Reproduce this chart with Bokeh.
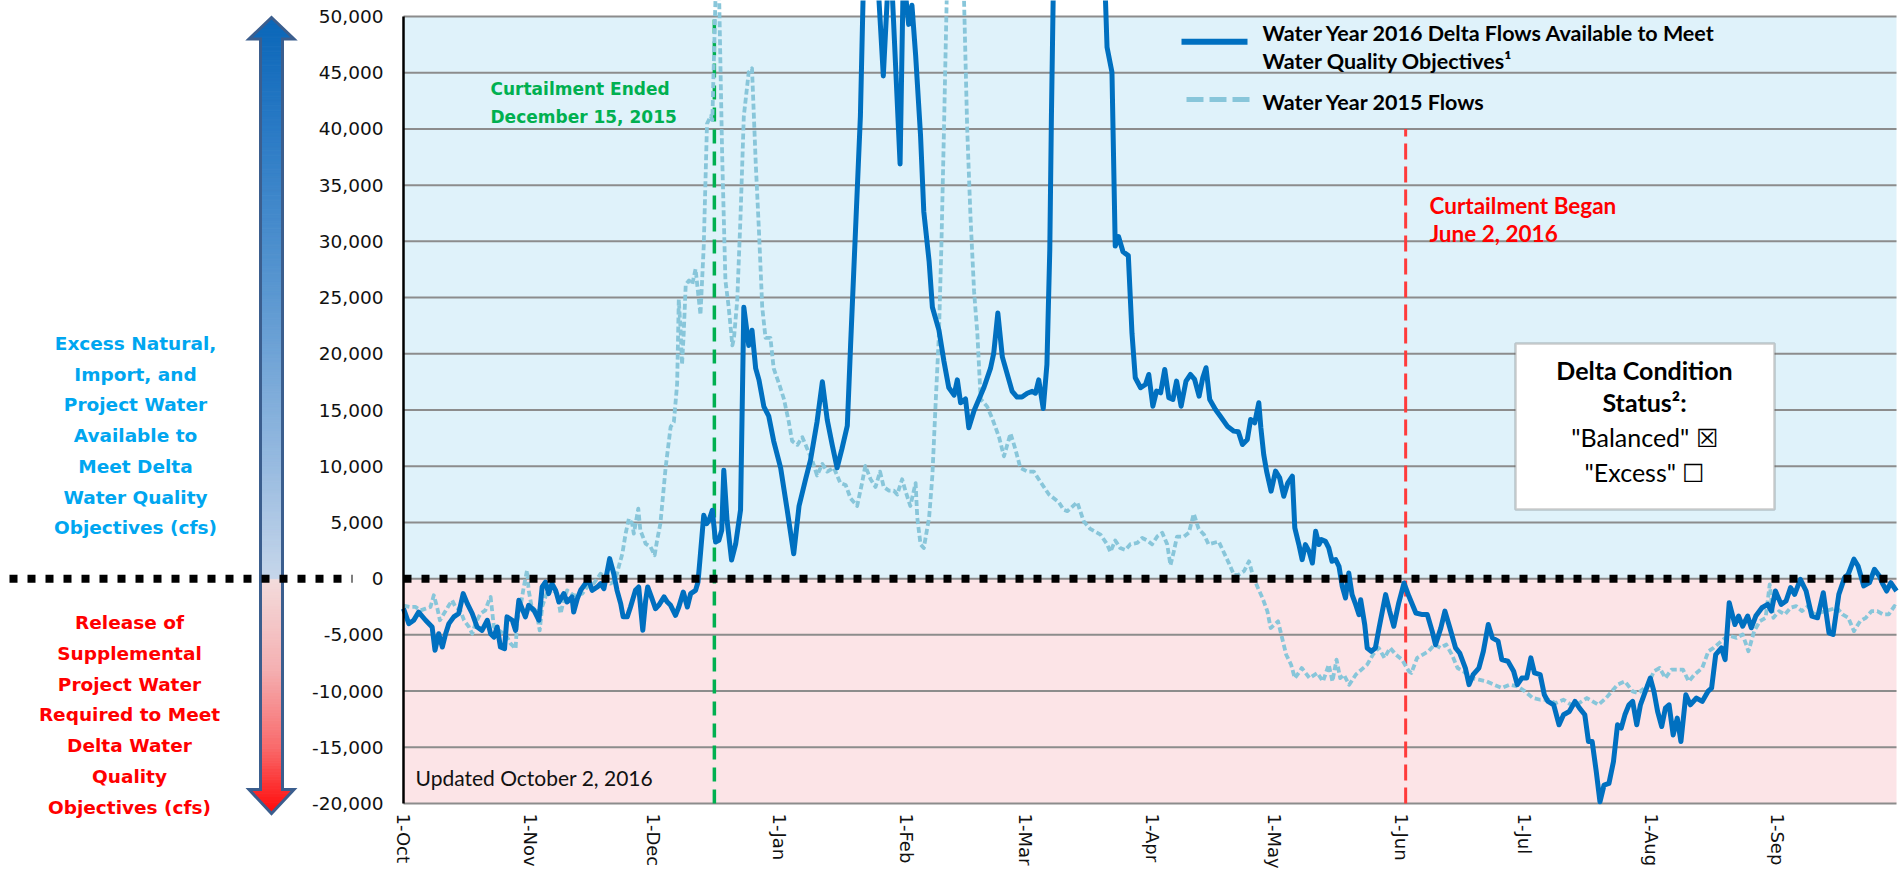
import numpy as np
from bokeh.plotting import figure
from bokeh.models import Range1d, FixedTicker, Label, BoxAnnotation
from bokeh.embed import file_html
from bokeh.resources import INLINE

# ---------------- data ----------------
X_TICKS = [0, 31, 61, 92, 123, 152, 183, 213, 244, 274, 305, 336]   # days since 1-Oct-2015
X_TICK_LABELS = ["1-Oct", "1-Nov", "1-Dec", "1-Jan", "1-Feb", "1-Mar",
                 "1-Apr", "1-May", "1-Jun", "1-Jul", "1-Aug", "1-Sep"]
Y_TICKS = [-20000, -15000, -10000, -5000, 0, 5000, 10000, 15000, 20000,
           25000, 30000, 35000, 40000, 45000, 50000]
Y_TICK_LABELS = ["-20,000", "-15,000", "-10,000", "-5,000", "0", "5,000", "10,000",
                 "15,000", "20,000", "25,000", "30,000", "35,000", "40,000",
                 "45,000", "50,000"]

# Water Year 2016 Delta flows (day, cfs)
WY2016 = [
    (0, -2670), (1.3, -4000), (2.5, -3700), (3.7, -2970), (5.4, -3700), (7.0, -4300),
    (7.7, -6370), (8.6, -4900), (9.5, -6080), (10.3, -4900), (11.1, -4000), (12.3, -3400),
    (13.5, -3100), (14.6, -1330), (15.6, -2220), (16.8, -3100), (18.0, -4300), (19.2, -4600),
    (20.5, -3700), (21.3, -4900), (22.1, -5200), (22.9, -4300), (23.7, -6080), (24.7, -6230),
    (25.3, -3400), (26.6, -3700), (27.4, -4600), (28.2, -1930), (29.0, -2670), (29.8, -3400),
    (30.6, -2370), (31.9, -2820), (33.1, -3700), (33.9, -740), (34.7, -300), (35.5, -1330),
    (36.3, -440), (37.2, -1040), (38.0, -2080), (39.2, -1330), (40.0, -2080), (41.2, -1630),
    (41.6, -2970), (42.5, -1780), (43.3, -1040), (44.5, -440), (45.3, -150), (46.1, -1040),
    (47.4, -740), (48.2, -440), (49.0, -890), (50.4, 1780), (51.4, 440), (52.2, -1040),
    (53.1, -2220), (53.7, -3400), (54.7, -3400), (55.5, -2520), (56.7, -1040), (57.5, -740),
    (58.5, -4600), (59.2, -1930), (59.7, -740), (60.6, -1630), (61.6, -2670), (62.4, -2370),
    (63.7, -1630), (64.5, -2080), (65.3, -2370), (66.5, -3260), (67.3, -2520), (68.4, -1190),
    (69.4, -2520), (70.2, -1330), (71.4, -1040), (72.0, -300), (72.6, 2220), (73.4, 5630),
    (74.1, 4890), (74.7, 5190), (75.5, 6080), (76.3, 3260), (77.1, 3410), (77.8, 4300),
    (78.3, 9640), (79.1, 5190), (80.2, 1650), (81.2, 3060), (82.4, 6120), (83.2, 24140),
    (84.4, 20740), (85.2, 22100), (86.1, 18700), (86.9, 17680), (88.1, 15300), (89.3, 14450),
    (90.5, 12240), (92.2, 9860), (93.8, 6120), (95.4, 2210), (96.7, 6460), (98.3, 8840),
    (99.5, 10540), (101.1, 13940), (102.4, 17510), (103.6, 14110), (104.8, 11900), (106.0, 9860),
    (107.2, 11560), (108.5, 13600), (109.3, 20740), (110.5, 30940), (111.7, 41140), (113.0, 62000),
    (114.5, 70000), (116.0, 53000), (117.3, 44710), (118.6, 54000), (119.5, 52000), (121.4, 36890),
    (122.2, 54000), (123.0, 51000), (123.5, 49300), (124.3, 51000), (125.2, 46580), (126.4, 39440),
    (127.2, 32640), (128.5, 28220), (129.3, 24140), (130.9, 22100), (132.1, 19380), (133.3, 17000),
    (134.6, 16320), (135.4, 17680), (136.2, 15640), (137.4, 15980), (138.2, 13430), (139.5, 14960),
    (140.7, 15980), (141.9, 17000), (143.5, 18700), (144.3, 20060), (145.3, 23630), (146.4, 19720),
    (147.6, 18190), (148.8, 16660), (150.0, 16150), (151.2, 16150), (152.5, 16490), (153.7, 16660),
    (154.5, 16490), (155.3, 17680), (156.4, 15130), (157.3, 19040), (158.0, 29240), (158.4, 41140),
    (159.5, 68000), (163.0, 85000), (167.0, 80000), (171.2, 56000), (172.0, 47260), (173.2, 45050),
    (174.0, 29580), (174.8, 30430), (175.9, 29070), (177.2, 28730), (178.1, 21800), (178.9, 17870),
    (180.2, 16980), (181.4, 17270), (182.2, 18160), (183.2, 15340), (184.1, 16680), (185.1, 16530),
    (186.1, 18610), (187.1, 16090), (188.1, 15940), (189.0, 17570), (190.1, 15340), (191.3, 17570),
    (192.4, 18160), (193.4, 17720), (194.5, 16230), (195.4, 17870), (196.2, 18760), (197.1, 15940),
    (198.5, 15050), (199.7, 14450), (201.4, 13560), (203.0, 13120), (204.1, 13060), (205.1, 11930),
    (206.3, 12380), (207.1, 14160), (208.1, 13860), (209.1, 15640), (209.6, 13420), (210.3, 11040),
    (211.0, 9560), (212.1, 7780), (213.2, 9560), (214.2, 8960), (215.2, 7330), (216.2, 8520),
    (217.3, 9110), (217.9, 4510), (218.9, 3030), (219.7, 1690), (220.5, 3030), (221.4, 2430),
    (222.2, 1390), (223.0, 4210), (223.8, 3030), (224.4, 3470), (225.4, 3320), (226.2, 2730),
    (227.0, 1540), (227.9, 1690), (228.7, 1100), (229.5, -690), (230.3, -1720), (231.1, 500),
    (231.9, -1420), (232.8, -2310), (233.6, -3200), (234.0, -1870), (235.0, -4100), (235.6, -6170),
    (236.6, -6470), (237.6, -6170), (238.5, -4390), (240.1, -1420), (241.1, -2910), (242.1, -4240),
    (243.3, -2170), (244.6, -390), (245.8, -1570), (247.5, -3060), (249.1, -3200), (250.3, -3200),
    (251.5, -4690), (252.3, -5880), (253.6, -4390), (254.6, -2890), (255.8, -4370), (257.2, -6160),
    (258.2, -6610), (259.6, -7950), (260.5, -9430), (261.5, -8540), (262.9, -7950), (264.0, -6460),
    (265.2, -4080), (266.2, -5270), (267.6, -5560), (268.5, -7200), (270.0, -7350), (271.4, -8240),
    (272.3, -9430), (273.4, -8840), (274.6, -8840), (275.6, -7050), (276.5, -8390), (277.9, -8540),
    (278.9, -10330), (279.8, -10920), (281.2, -11220), (282.5, -13000), (283.6, -12110), (285.0, -11820),
    (286.4, -10920), (287.5, -11520), (288.8, -12110), (289.7, -14490), (290.6, -14490), (291.6, -17170),
    (292.5, -19850), (293.5, -18360), (294.7, -18210), (295.8, -16280), (296.8, -13000), (297.7, -13300),
    (298.6, -12110), (299.6, -11220), (300.5, -10920), (301.5, -13000), (302.4, -11220), (303.6, -10030),
    (304.8, -8840), (305.7, -10030), (306.6, -11820), (307.6, -13150), (308.5, -11520), (309.4, -11220),
    (310.4, -13900), (311.4, -12410), (312.3, -14490), (313.5, -10330), (314.6, -11220), (316.1, -10620),
    (317.5, -10920), (318.9, -10030), (319.8, -9730), (320.8, -6760), (322.2, -6160), (323.1, -7200),
    (324.1, -2140), (325.5, -4080), (326.4, -3330), (327.4, -4230), (328.6, -3330), (329.5, -4370),
    (330.6, -3330), (332.1, -2590), (333.5, -2290), (334.4, -2890), (335.4, -1100), (336.8, -2290),
    (338.0, -1990), (339.1, -800), (340.1, -1400), (341.5, -60), (342.9, -1100), (344.3, -3330),
    (345.7, -3480), (347.1, -1250), (348.5, -4820), (349.5, -4970), (350.9, -1400), (352.3, 90),
    (353.2, 390), (354.6, 1730), (355.6, 1130), (357.0, -650), (358.4, -360), (359.6, 830),
    (360.8, 240), (361.7, -510), (362.6, -1100), (363.6, -360), (365.0, -1100),
]

# Water Year 2015 flows (day, cfs)
WY2015 = [
    (0, -2400), (1.7, -2520), (2.9, -2520), (4.2, -2820), (5.4, -2670), (6.6, -2520),
    (7.4, -1480), (8.2, -2520), (8.9, -3700), (9.9, -3110), (11.1, -2370), (11.9, -1930),
    (12.7, -2520), (13.9, -2820), (14.8, -3700), (16.0, -4300), (16.8, -4900), (17.6, -4000),
    (18.8, -3110), (20.0, -2820), (20.9, -1930), (21.3, -1630), (22.1, -4300), (23.3, -4600),
    (24.5, -4900), (25.3, -5190), (26.2, -5780), (27.4, -6230), (27.8, -3700), (28.6, -2520),
    (29.4, -740), (30.2, 740), (30.6, -1040), (31.5, -2820), (32.3, -2520), (33.3, -4600),
    (33.9, -2500), (35.5, -740), (37.6, -1330), (38.4, -3110), (39.2, -1930), (40.0, -1040),
    (41.6, -1500), (43.7, -1330), (44.9, -740), (46.5, -440), (48.2, 440), (49.0, 150),
    (50.6, -440), (51.8, -150), (52.6, 1040), (53.5, 2220), (54.3, 4000), (55.1, 5340),
    (55.9, 4890), (56.3, 4000), (57.4, 6230), (57.9, 4300), (59.2, 3110), (60.4, 2820),
    (61.4, 2080), (62.0, 3410), (62.8, 4890), (64.1, 9930), (65.3, 13490), (66.1, 13940),
    (66.9, 17340), (67.3, 24820), (67.7, 22440), (68.1, 19040), (68.5, 21760), (69.0, 26180),
    (69.8, 26520), (70.6, 26180), (71.4, 27540), (72.2, 24820), (72.6, 23460), (73.4, 29580),
    (74.2, 40460), (75.1, 41140), (75.5, 40800), (76.3, 52000), (77.0, 55000), (77.9, 37740),
    (78.7, 26520), (79.5, 24140), (80.4, 20740), (80.8, 21420), (81.6, 24820), (82.4, 32300),
    (83.2, 41140), (84.4, 45050), (85.2, 45390), (86.1, 37060), (86.9, 30940), (87.7, 24140),
    (88.5, 21420), (89.7, 21420), (90.5, 18700), (91.8, 17340), (93.0, 15980), (94.2, 13940),
    (95.0, 12240), (96.3, 11900), (97.5, 12580), (98.7, 11560), (99.9, 10540), (101.1, 9180),
    (102.4, 10200), (103.6, 9520), (105.2, 9860), (106.8, 8500), (108.1, 8330), (109.3, 7140),
    (110.9, 6460), (112.1, 8500), (112.9, 10030), (114.2, 8840), (115.4, 8160), (116.5, 9520),
    (117.4, 8160), (118.7, 7820), (119.9, 7820), (120.7, 7480), (121.9, 8840), (122.7, 7820),
    (123.9, 6460), (125.2, 8500), (125.6, 5440), (126.4, 3060), (127.2, 2720), (128.5, 5440),
    (129.3, 9180), (130.1, 15640), (130.9, 21760), (131.5, 29580), (132.1, 39440), (133.0, 55000),
    (135.0, 60000), (136.8, 55000), (137.8, 40120), (138.6, 32300), (139.5, 25500), (140.3, 21760),
    (141.1, 15980), (142.7, 15300), (143.9, 14280), (145.6, 12580), (146.8, 10880), (147.6, 11900),
    (148.4, 12920), (149.6, 11500), (150.8, 9860), (152.5, 9520), (154.1, 9520), (155.3, 8840),
    (157.8, 7480), (160.2, 6800), (161.4, 6120), (162.3, 6000), (164.7, 6800), (166.3, 5100),
    (167.9, 4420), (170.4, 3920), (172.0, 3060), (172.8, 2380), (174.0, 3400), (175.2, 2720),
    (176.5, 2550), (177.7, 3060), (179.4, 3180), (180.6, 3620), (181.8, 3400), (183.0, 3060),
    (184.3, 3770), (185.5, 4080), (186.7, 3060), (187.5, 1190), (188.3, 2380), (189.1, 3740),
    (190.8, 3740), (192.0, 4080), (193.2, 5780), (194.4, 4420), (195.7, 3920), (196.8, 3060),
    (199.3, 3300), (201.8, 1360), (203.0, 340), (204.2, 340), (205.5, 680), (206.7, 1540),
    (207.5, 500), (208.7, -680), (210.0, -1720), (211.2, -2910), (212.0, -4390), (213.8, -3800),
    (214.6, -4990), (215.8, -6770), (217.0, -7660), (217.9, -8850), (219.1, -8250), (219.6, -7950),
    (221.5, -8840), (223.4, -8390), (224.8, -9140), (226.2, -7650), (227.1, -9140), (228.1, -7200),
    (229.0, -8840), (229.9, -8550), (231.2, -9440), (232.8, -8540), (234.2, -8090), (235.6, -7650),
    (237.0, -6760), (238.4, -6160), (239.8, -7050), (241.2, -6160), (242.6, -6760), (244.1, -7200),
    (245.8, -8250), (246.4, -8390), (247.8, -7050), (249.2, -6760), (250.6, -6460), (252.1, -5860),
    (253.5, -6160), (254.9, -5860), (256.3, -6760), (257.7, -7950), (259.1, -8240), (261.0, -8840),
    (262.9, -8990), (264.8, -9140), (266.6, -9430), (268.5, -9730), (270.4, -9430), (272.3, -9580),
    (274.2, -10030), (276.1, -10620), (277.9, -10770), (279.8, -10770), (281.7, -11070), (283.6, -10770),
    (285.5, -11220), (287.4, -11070), (289.3, -10620), (292.1, -11220), (294.0, -10620), (295.4, -10030),
    (296.8, -9430), (298.6, -9140), (300.5, -10030), (301.9, -10180), (304.3, -9430), (305.7, -8240),
    (307.1, -7950), (308.5, -8840), (310.0, -8090), (312.8, -8090), (314.2, -9140), (315.6, -8540),
    (317.5, -7950), (319.0, -6460), (320.3, -6160), (323.1, -5270), (324.5, -5120), (325.9, -5270),
    (327.4, -4970), (328.8, -6460), (330.2, -4670), (331.6, -3780), (333.0, -3480), (334.0, -510),
    (334.9, -3480), (336.3, -2890), (337.7, -3180), (339.1, -2590), (340.5, -2440), (341.9, -2890),
    (343.4, -2440), (344.8, -3180), (347.6, -2890), (350.4, -2590), (351.8, -3180), (353.2, -3480),
    (354.6, -4670), (356.1, -3780), (357.5, -3480), (358.9, -2890), (360.3, -2890), (361.7, -3180),
    (363.1, -3180), (364.5, -2440), (365.0, -2600),
]

CURTAIL_END_DAY = 76     # "Curtailment Ended December 15, 2015" marker
CURTAIL_BEGIN_DAY = 245  # "Curtailment Began June 2, 2016" marker
CURTAIL_BEGIN_TOP = 40000

LEFT_BLUE_LINES = ["Excess Natural,", "Import, and", "Project Water", "Available to",
                   "Meet Delta", "Water Quality", "Objectives (cfs)"]
LEFT_RED_LINES = ["Release of", "Supplemental", "Project Water", "Required to Meet",
                  "Delta Water", "Quality", "Objectives (cfs)"]

# ---------------- layout (page pixels; Bokeh page has no body margin) ----------------
W, H = 1902, 871
X0_PX, XEND_PX = 403, 1896          # page px of day 0 / day 365
YTOP_PX, YBOT_PX = 16, 803          # page px of 50,000 / -20,000
KX = (XEND_PX - X0_PX) / 365.0
KY = (YBOT_PX - YTOP_PX) / 70000.0
X_START = -X0_PX / KX
X_END = 365 + (W - XEND_PX) / KX
Y_END = 50000 + YTOP_PX / KY
Y_START = -20000 - (H - YBOT_PX) / KY


def dx(px):
    return (px - X0_PX) / KX


def vy(py):
    return 50000 - (py - YTOP_PX) / KY


p = figure(width=W, height=H, x_range=Range1d(X_START, X_END), y_range=Range1d(Y_START, Y_END),
           output_backend="svg", toolbar_location=None)
p.min_border = 0
p.min_border_left = p.min_border_right = p.min_border_top = p.min_border_bottom = 0
p.outline_line_color = None
p.background_fill_color = "white"
p.border_fill_color = "white"
p.xgrid.visible = False
p.ygrid.visible = False

# backgrounds
p.add_layout(BoxAnnotation(left=0, right=365, bottom=0, top=50000, fill_color="#DFF2FA",
                           fill_alpha=1, line_color=None, level="underlay"))
p.add_layout(BoxAnnotation(left=0, right=365, bottom=-20000, top=0, fill_color="#FCE4E7",
                           fill_alpha=1, line_color=None, level="underlay"))

# gridlines
p.segment(x0=[0] * len(Y_TICKS), x1=[365] * len(Y_TICKS), y0=Y_TICKS, y1=Y_TICKS,
          line_color="#8C8C8C", line_width=2)

# axes
yax = p.yaxis[0]
yax.fixed_location = 0
yax.bounds = (-20000, 50000)
yax.ticker = FixedTicker(ticks=Y_TICKS)
yax.major_label_overrides = {t: l for t, l in zip(Y_TICKS, Y_TICK_LABELS)}
yax.axis_line_color = "black"
yax.axis_line_width = 2.5
yax.major_tick_line_color = None
yax.minor_tick_line_color = None
yax.major_tick_out = 0
yax.major_tick_in = 0
yax.major_label_standoff = 20
yax.major_label_text_font = "DejaVu Sans"
yax.major_label_text_font_size = "18.5px"
yax.major_label_text_color = "#111111"

xax = p.xaxis[0]
xax.fixed_location = -20000
xax.bounds = (0, 365)
xax.ticker = FixedTicker(ticks=X_TICKS)
xax.major_label_overrides = {t: l for t, l in zip(X_TICKS, X_TICK_LABELS)}
xax.major_label_orientation = "vertical"
xax.axis_line_color = None
xax.major_tick_line_color = None
xax.minor_tick_line_color = None
xax.major_tick_out = 0
xax.major_tick_in = 0
xax.major_label_standoff = 10
xax.major_label_text_font = "DejaVu Sans"
xax.major_label_text_font_size = "18px"
xax.major_label_text_color = "#111111"

# event lines
p.segment(x0=[CURTAIL_END_DAY], x1=[CURTAIL_END_DAY], y0=[-20000], y1=[50000],
          line_color="#00B050", line_width=3.5, line_dash="14 8")
p.segment(x0=[CURTAIL_BEGIN_DAY], x1=[CURTAIL_BEGIN_DAY], y0=[-20000], y1=[CURTAIL_BEGIN_TOP],
          line_color="#FF3B3B", line_width=3, line_dash="16 7")

# series
d15 = [d for d, _ in WY2015]
v15 = [v for _, v in WY2015]
d16 = [d for d, _ in WY2016]
v16 = [v for _, v in WY2016]
p.line(d15, v15, line_color="#88C6DA", line_width=3.8, line_dash="6 3", line_join="round")
p.line(d16, v16, line_color="#0070C0", line_width=5, line_join="round")

# ---------------- left side double arrow ----------------
cx = dx(271)
sw = 11 / KX
hw = 22.5 / KX
tip_top, base_top = vy(17), vy(38.5)
base_bot, tip_bot = vy(789), vy(813)

STOPS = [(50000, "#0A66B8"), (40000, "#2A7AC5"), (25000, "#5C98D1"), (10000, "#98BBE0"),
         (0, "#C6D6EA"), (-1, "#F3DCDC"), (-8000, "#F4B0B2"), (-15000, "#F96A6B"),
         (-21000, "#FF0606")]


def hex2rgb(h):
    return np.array([int(h[i:i + 2], 16) for i in (1, 3, 5)], dtype=float)


def color_at(v):
    for (va, ca), (vb, cb) in zip(STOPS[:-1], STOPS[1:]):
        if va >= v >= vb:
            t = (va - v) / (va - vb) if va != vb else 0
            c = hex2rgb(ca) * (1 - t) + hex2rgb(cb) * t
            return "#%02x%02x%02x" % tuple(int(round(x)) for x in c)
    return STOPS[-1][1] if v < STOPS[-1][0] else STOPS[0][1]


def half_w(y, region):
    if region == "top":
        return hw * (tip_top - y) / (tip_top - base_top)
    if region == "bot":
        return hw * (y - tip_bot) / (base_bot - tip_bot)
    return sw


bounds = sorted(set(list(np.arange(tip_bot, tip_top, 250.0)) + [tip_top, base_top, base_bot, 0.0]))
sx, sy, sc = [], [], []
for ya, yb in zip(bounds[:-1], bounds[1:]):
    mid = 0.5 * (ya + yb)
    region = "top" if mid > base_top else ("bot" if mid < base_bot else "shaft")
    wa, wb = half_w(ya, region), half_w(yb, region)
    sx.append([cx - wa, cx + wa, cx + wb, cx - wb])
    sy.append([ya, ya, yb, yb])
    sc.append(color_at(mid))
p.patches(sx, sy, fill_color=sc, line_color=sc, line_width=1)
p.patch([cx, cx + hw, cx + sw, cx + sw, cx + hw, cx, cx - hw, cx - sw, cx - sw, cx - hw],
        [tip_top, base_top, base_top, base_bot, base_bot, tip_bot, base_bot, base_bot, base_top, base_top],
        fill_color=None, line_color="#3B5E8E", line_width=3, line_join="miter")

# zero reference line (dotted)
p.segment(x0=[dx(9), 0], x1=[dx(352), 365], y0=[0, 0], y1=[0, 0],
          line_color="black", line_width=8, line_dash="8 10")


# ---------------- texts ----------------
def add_label(px, py, text, font, size, color, style="normal", align="left"):
    p.add_layout(Label(x=dx(px), y=vy(py), text=text, text_font=font, text_font_size=size,
                       text_font_style=style, text_color=color, text_align=align,
                       text_baseline="middle"))


for i, t in enumerate(LEFT_BLUE_LINES):
    add_label(135, 343 + i * 30.7, t, "DejaVu Sans", "18.5px", "#00A6F0", "bold", "center")
for i, t in enumerate(LEFT_RED_LINES):
    add_label(129, 622 + i * 30.8, t, "DejaVu Sans", "18.5px", "#FF0000", "bold", "center")

add_label(490, 88.7, "Curtailment Ended", "DejaVu Sans", "17px", "#00B050", "bold")
add_label(490, 116.6, "December 15, 2015", "DejaVu Sans", "17px", "#00B050", "bold")

add_label(1429, 205, "Curtailment Began", "Lato", "22.5px", "#FF0000", "bold")
add_label(1429, 233, "June 2, 2016", "Lato", "22.5px", "#FF0000", "bold")

add_label(415, 777, "Updated October 2, 2016", "Lato", "21px", "#111111")

# legend
p.line([dx(1181), dx(1247)], [vy(41.3), vy(41.3)], line_color="#0070C0", line_width=6)
p.line([dx(1186), dx(1249)], [vy(99), vy(99)], line_color="#88C6DA", line_width=5, line_dash="17 6")
add_label(1262, 32.3, "Water Year 2016 Delta Flows Available to Meet", "Lato", "21.5px", "#000000", "bold")
add_label(1262, 60.7, "Water Quality Objectives\u00b9", "Lato", "21.5px", "#000000", "bold")
add_label(1262, 101.7, "Water Year 2015 Flows", "Lato", "21.5px", "#000000", "bold")

# Delta condition status box
p.add_layout(BoxAnnotation(left=dx(1515), right=dx(1774), top=vy(343), bottom=vy(509),
                           fill_color="white", fill_alpha=1, line_color="#595959", line_width=2.5))
add_label(1644, 369.3, "Delta Condition", "Lato", "25px", "#000000", "bold", "center")
add_label(1644, 401.7, "Status\u00b2:", "Lato", "25px", "#000000", "bold", "center")
add_label(1644, 436.7, "\"Balanced\" \u2612", "Lato", "25px", "#000000", "normal", "center")
add_label(1644, 471.7, "\"Excess\" \u2610", "Lato", "25px", "#000000", "normal", "center")

open("out.html", "w").write(file_html(p, INLINE))
